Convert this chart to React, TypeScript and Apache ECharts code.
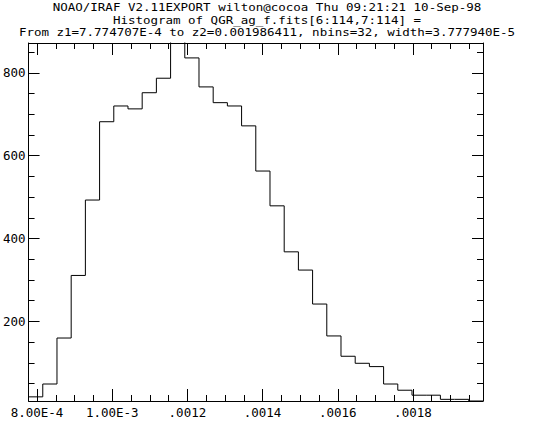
import React, { useEffect, useRef } from "react";
import * as echarts from "echarts";

const TITLE_LINES = [
  "NOAO/IRAF V2.11EXPORT wilton@cocoa Thu 09:21:21 10-Sep-98",
  "Histogram of QGR_ag_f.fits[6:114,7:114] =",
  "From z1=7.774707E-4 to z2=0.001986411, nbins=32, width=3.777940E-5",
];

const Z1 = 7.774707e-4;
const Z2 = 0.001986411;
const BIN_WIDTH = 3.77794e-5;

const COUNTS = [
  18, 49, 160, 311, 493, 682, 720, 713, 752, 787, 905, 836, 766, 728, 720, 672,
  563, 479, 368, 324, 242, 165, 116, 99, 91, 49, 34, 22, 22, 12, 12, 8,
];

const Y_MIN = 8;
const Y_MAX = 872;

const X_MAJOR = [0.0008, 0.001, 0.0012, 0.0014, 0.0016, 0.0018];
const X_LABELS = ["8.00E-4", "1.00E-3", ".0012", ".0014", ".0016", ".0018"];
const X_MINOR = [
  0.0008, 0.00085, 0.0009, 0.00095, 0.001, 0.00105, 0.0011, 0.00115, 0.0012,
  0.00125, 0.0013, 0.00135, 0.0014, 0.00145, 0.0015, 0.00155, 0.0016, 0.00165,
  0.0017, 0.00175, 0.0018, 0.00185, 0.0019, 0.00195,
];

const Y_MAJOR = [200, 400, 600, 800];
const Y_LABELS = ["200", "400", "600", "800"];
const Y_MINOR = [
  50, 100, 150, 200, 250, 300, 350, 400, 450, 500, 550, 600, 650, 700, 750, 800,
  850,
];

const FONT = "'DejaVu Sans Mono', monospace";

export default function App() {
  const ref = useRef<HTMLDivElement>(null);

  useEffect(() => {
    if (!ref.current) return;
    const chart = echarts.init(ref.current, undefined, { renderer: "svg" });

    const points: number[][] = COUNTS.map((c, i) => [Z1 + i * BIN_WIDTH, c]);
    points.push([Z1 + COUNTS.length * BIN_WIDTH, COUNTS[COUNTS.length - 1]]);

    const lineStyle = { color: "#000", width: 1 };

    const xLabelFmt = (v: number) => {
      const idx = X_MAJOR.findIndex((m) => Math.abs(m - v) < 1e-9);
      return idx >= 0 ? X_LABELS[idx] : "";
    };
    const yLabelFmt = (v: number) => {
      const idx = Y_MAJOR.findIndex((m) => Math.abs(m - v) < 1e-6);
      return idx >= 0 ? Y_LABELS[idx] : "";
    };

    const xBase = (position: string, major: boolean, showLine: boolean, showLabel: boolean) => ({
      type: "value",
      position,
      min: Z1,
      max: Z2,
      axisLine: { show: showLine, lineStyle },
      axisTick: {
        show: true,
        inside: true,
        length: major ? 12 : 6,
        customValues: major ? X_MAJOR : X_MINOR,
        lineStyle,
      },
      axisLabel: showLabel
        ? {
            show: true,
            customValues: X_MAJOR,
            formatter: xLabelFmt,
            color: "#000",
            fontFamily: FONT,
            fontSize: 12.5,
            margin: 5,
          }
        : { show: false },
      splitLine: { show: false },
    });

    const yBase = (position: string, major: boolean, showLine: boolean, showLabel: boolean) => ({
      type: "value",
      position,
      min: Y_MIN,
      max: Y_MAX,
      axisLine: { show: showLine, lineStyle },
      axisTick: {
        show: true,
        inside: true,
        length: major ? 11 : 6,
        customValues: major ? Y_MAJOR : Y_MINOR,
        lineStyle,
      },
      axisLabel: showLabel
        ? {
            show: true,
            customValues: Y_MAJOR,
            formatter: yLabelFmt,
            color: "#000",
            fontFamily: FONT,
            fontSize: 12.5,
            margin: 3,
          }
        : { show: false },
      splitLine: { show: false },
    });

    chart.setOption({
      animation: false,
      backgroundColor: "#fff",
      grid: { left: 25, top: 43, width: 458, height: 358, containLabel: false },
      xAxis: [
        xBase("bottom", true, true, true),
        xBase("bottom", false, false, false),
        xBase("top", true, true, false),
        xBase("top", false, false, false),
      ],
      yAxis: [
        yBase("left", true, true, true),
        yBase("left", false, false, false),
        yBase("right", true, true, false),
        yBase("right", false, false, false),
      ],
      graphic: TITLE_LINES.map((t, i) => ({
        type: "text",
        x: 267,
        y: 7.5 + i * 12.5,
        scaleX: 1,
        scaleY: 0.84,
        style: {
          text: t,
          align: "center",
          verticalAlign: "middle",
          fontFamily: FONT,
          fontSize: 12.5,
          fill: "#000",
        },
      })),
      series: [
        {
          type: "line",
          xAxisIndex: 0,
          yAxisIndex: 0,
          data: points,
          step: "end",
          symbol: "none",
          silent: true,
          clip: true,
          lineStyle,
        },
      ],
    });

    return () => chart.dispose();
  }, []);

  return (
    <div
      ref={ref}
      style={{ position: "fixed", left: 0, top: 0, width: 544, height: 422, background: "#fff" }}
    />
  );
}
